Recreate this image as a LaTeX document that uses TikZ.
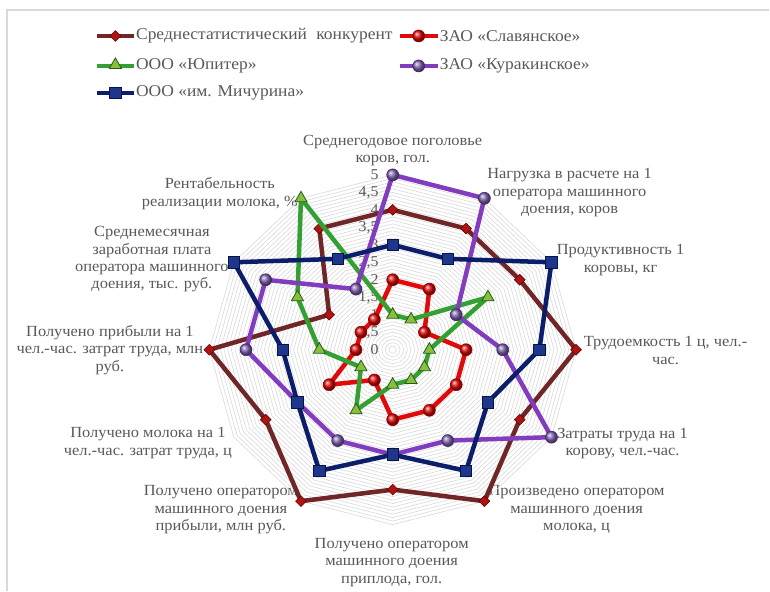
\documentclass[tikz,border=0pt]{standalone}
\usepackage{fontspec}
\setmainfont[FakeStretch=1.06]{Liberation Serif}
\usetikzlibrary{shapes.geometric}

\definecolor{txtgray}{RGB}{89,89,89}
\definecolor{gridgray}{RGB}{218,218,218}
\definecolor{framegray}{RGB}{217,217,217}
\definecolor{avgline}{RGB}{112,38,38}
\definecolor{avgfill}{RGB}{175,20,20}
\definecolor{avgdark}{RGB}{110,0,0}
\definecolor{slavline}{RGB}{225,10,10}
\definecolor{slavdark}{RGB}{150,0,0}
\definecolor{yupline}{RGB}{52,160,52}
\definecolor{yupfill}{RGB}{140,190,60}
\definecolor{yupdark}{RGB}{30,95,30}
\definecolor{kurline}{RGB}{130,60,190}
\definecolor{kurfill}{RGB}{135,105,185}
\definecolor{kurdark}{RGB}{70,40,100}
\definecolor{michline}{RGB}{12,30,105}
\definecolor{michfill}{RGB}{30,55,140}
\definecolor{michdark}{RGB}{8,20,70}

\tikzstyle{gridline}=[draw=gridgray, line width=0.6pt]
\tikzstyle{axislabel}=[text=txtgray, align=center, inner sep=0pt,
	font=\fontsize{15.5}{17.5}\selectfont]
\tikzstyle{ticklabel}=[text=txtgray, anchor=east, inner sep=0pt,
	font=\fontsize{15}{17}\selectfont]
\tikzstyle{legendtext}=[text=txtgray, anchor=west, inner sep=0pt,
	font=\fontsize{16.5}{18}\selectfont]
\tikzstyle{series}=[line width=4.5pt, line join=round]
\tikzstyle{avgdot}=[diamond, fill=avgfill, draw=avgdark, line width=0.6pt,
	minimum size=11pt, inner sep=0pt]
\tikzstyle{slavdot}=[circle, ball color=slavline, draw=slavdark, line width=0.6pt,
	minimum size=12pt, inner sep=0pt]
\tikzstyle{yupdot}=[regular polygon, regular polygon sides=3, fill=yupfill,
	draw=yupdark, line width=0.8pt, minimum size=14pt, inner sep=0pt]
\tikzstyle{kurdot}=[circle, ball color=kurfill, draw=kurdark, line width=0.6pt,
	minimum size=12pt, inner sep=0pt]
\tikzstyle{michdot}=[rectangle, fill=michfill, draw=michdark, line width=0.8pt,
	minimum size=11.5pt, inner sep=0pt]

\begin{document}
\begin{tikzpicture}[x=1pt,y=1pt]

	\fill[white] (0,0) rectangle (770,591);
	\draw[framegray, line width=1.2pt] (7,0) -- (7,581) -- (770,581);

	% legend
	\coordinate (lgAvgA) at (97,555);
	\coordinate (lgAvgB) at (134,555);
	\coordinate (lgSlavA) at (400,555);
	\coordinate (lgSlavB) at (438,555);
	\coordinate (lgYupA) at (97,525);
	\coordinate (lgYupB) at (134,525);
	\coordinate (lgKurA) at (400,525);
	\coordinate (lgKurB) at (438,525);
	\coordinate (lgMichA) at (97,498);
	\coordinate (lgMichB) at (134,498);

	\draw[series, avgline] (lgAvgA) -- (lgAvgB);
	\draw[series, slavline] (lgSlavA) -- (lgSlavB);
	\draw[series, yupline] (lgYupA) -- (lgYupB);
	\draw[series, kurline] (lgKurA) -- (lgKurB);
	\draw[series, michline] (lgMichA) -- (lgMichB);

	\node[avgdot] (lgAvgM) at (115.5,555) {};
	\node[slavdot] (lgSlavM) at (419,555) {};
	\node[yupdot] (lgYupM) at (115.5,526) {};
	\node[kurdot] (lgKurM) at (419,525) {};
	\node[michdot] (lgMichM) at (115.5,498) {};

	\node[legendtext] (lgAvgT) at (136,555) {Среднестатистический\hspace{0.3em} конкурент};
	\node[legendtext] (lgSlavT) at (440,555) {ЗАО «Славянское»};
	\node[legendtext] (lgYupT) at (136,525) {ООО «Юпитер»};
	\node[legendtext] (lgKurT) at (440,525) {ЗАО «Куракинское»};
	\node[legendtext] (lgMichT) at (136,498) {ООО «им. Мичурина»};

	% axis labels
	\node[axislabel] (herd) at (393,440.5) {Среднегодовое поголовье\\коров, гол.};
	\node[axislabel] (load) at (570,398) {Нагрузка в расчете на 1\\оператора машинного\\доения, коров};
	\node[axislabel] (yield) at (621,331) {Продуктивность 1\\коровы, кг};
	\node[axislabel] (labint) at (666,240) {Трудоемкость 1 ц, чел.-\\час.};
	\node[axislabel] (labcow) at (623,147) {Затраты труда на 1\\корову, чел.-час.};
	\node[axislabel] (milkop) at (577,81) {Произведено оператором\\машинного доения\\молока, ц};
	\node[axislabel] (calves) at (392,28) {Получено оператором\\машинного доения\\приплода, гол.};
	\node[axislabel] (profop) at (221,81) {Получено оператором\\машинного доения\\прибыли, млн руб.};
	\node[axislabel] (milkhr) at (148,147.5) {Получено молока на 1\\чел.-час. затрат труда, ц};
	\node[axislabel] (profhr) at (110,241) {Получено прибыли на 1\\чел.-час. затрат труда, млн\\руб.};
	\node[axislabel] (wage) at (152,331.5) {Среднемесячная\\заработная плата\\оператора машинного\\доения, тыс. руб.};
	\node[axislabel] (rent) at (220,397) {Рентабельность\\реализации молока, \%};

	\begin{scope}[shift={(393,241)}, x=36.7pt, y=35pt]

		% grid
		\foreach \i [evaluate=\i as \r using \i/10] in {1,...,50}
			\draw[gridline] (90:\r) \foreach \a in {60,30,...,-240} {-- (\a:\r)} -- cycle;

		\foreach \v/\t [count=\n] in {0/0,0.5/{0,5},1/1,1.5/{1,5},2/2,2.5/{2,5},3/3,3.5/{3,5},4/4,4.5/{4,5},5/5}
			\node[ticklabel] (tick\n) at (-0.38,\v) {\t};

		% data points
		\foreach \v [count=\k from 0] in {4,4,4,5,4,5,4,5,4,5,2,4}
			\coordinate (avg\k) at ({90-30*\k}:\v);
		\foreach \v [count=\k from 0] in {2,2,1,2,2,2,2,1,2,1,1,1}
			\coordinate (slav\k) at ({90-30*\k}:\v);
		\foreach \v [count=\k from 0] in {1,1,3,1,1,1,1,2,1,2,3,5}
			\coordinate (yup\k) at ({90-30*\k}:\v);
		\foreach \v [count=\k from 0] in {5,5,2,3,5,3,3,3,3,4,4,2}
			\coordinate (kur\k) at ({90-30*\k}:\v);
		\foreach \v [count=\k from 0] in {3,3,5,4,3,4,3,4,3,3,5,3}
			\coordinate (mich\k) at ({90-30*\k}:\v);

		\draw[series, avgline] (avg0) \foreach \k in {1,...,11} {-- (avg\k)} -- cycle;
		\foreach \k in {0,...,11}
			\node[avgdot] (avgm\k) at (avg\k) {};

		\draw[series, slavline] (slav0) \foreach \k in {1,...,11} {-- (slav\k)} -- cycle;
		\foreach \k in {0,...,11}
			\node[slavdot] (slavm\k) at (slav\k) {};

		\draw[series, yupline] (yup0) \foreach \k in {1,...,11} {-- (yup\k)} -- cycle;
		\foreach \k in {0,...,11}
			\node[yupdot] (yupm\k) at (yup\k) {};

		\draw[series, kurline] (kur0) \foreach \k in {1,...,11} {-- (kur\k)} -- cycle;
		\foreach \k in {0,...,11}
			\node[kurdot] (kurm\k) at (kur\k) {};

		\draw[series, michline] (mich0) \foreach \k in {1,...,11} {-- (mich\k)} -- cycle;
		\foreach \k in {0,...,11}
			\node[michdot] (michm\k) at (mich\k) {};

	\end{scope}

\end{tikzpicture}
\end{document}
